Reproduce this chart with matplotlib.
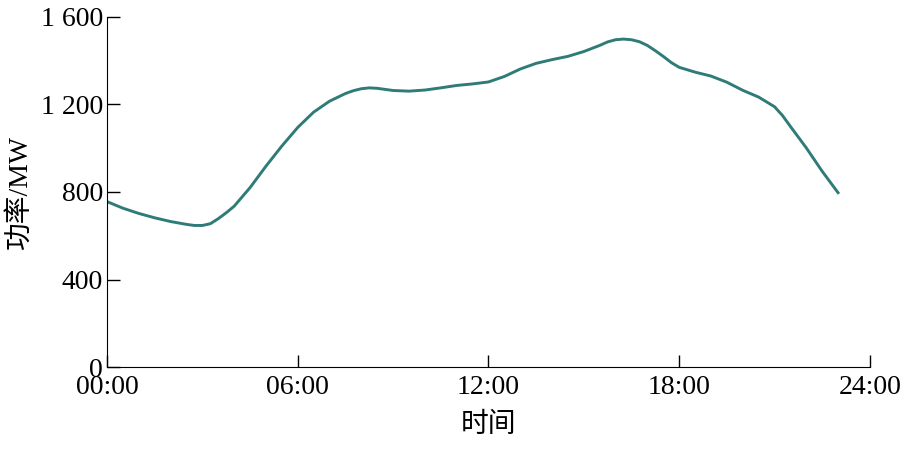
import matplotlib
matplotlib.use("Agg")
import matplotlib.pyplot as plt

# load curve (hours, MW)
hours = [0, 0.5, 1, 1.5, 2, 2.5, 2.75, 3, 3.25, 3.5, 3.75, 4, 4.5, 5, 5.5,
         6, 6.5, 7, 7.5, 7.75, 8, 8.25, 8.5, 9, 9.5, 10, 10.5, 11, 11.5,
         12, 12.5, 13, 13.5, 14, 14.5, 15, 15.5, 15.75, 16, 16.25, 16.5,
         16.75, 17, 17.25, 17.5, 17.75, 18, 18.5, 19, 19.5, 20, 20.5, 21,
         21.25, 21.5, 22, 22.5, 23]
power = [756, 726, 702, 682, 665, 652, 647, 647, 655, 678, 705, 735, 820,
         918, 1010, 1095, 1165, 1215, 1250, 1263, 1272, 1276, 1274, 1264,
         1261, 1266, 1276, 1287, 1294, 1303, 1328, 1362, 1388, 1405, 1420,
         1442, 1470, 1486, 1496, 1499, 1496, 1487, 1470, 1446, 1420, 1392,
         1370, 1348, 1330, 1302, 1265, 1234, 1190, 1150, 1100, 1002, 895,
         797]

xticks = [0, 6, 12, 18, 24]
xticklabels = ["00:00", "06:00", "12:00", "18:00", "24:00"]
yticks = [0, 400, 800, 1200, 1600]
yticklabels = ["0", "400", "800", "1 200", "1 600"]

plt.rcParams['font.family'] = ['Liberation Serif', 'Noto Sans CJK SC']
plt.rcParams['font.size'] = 20

fig = plt.figure(figsize=(9.07, 4.59), dpi=100)
ax = fig.add_axes([0.118, 0.2004, 0.841, 0.7626])

ax.plot(hours, power, color="#2e7b78", lw=2.1, solid_joinstyle="round")

ax.set_xlim(0, 24)
ax.set_ylim(0, 1600)
ax.set_xticks(xticks)
ax.set_xticklabels(xticklabels)
ax.set_yticks(yticks)
ax.set_yticklabels(yticklabels)
ax.tick_params(direction="in", length=9, width=1, pad=3)
ax.tick_params(axis="x", pad=6)

ax.spines["top"].set_visible(False)
ax.spines["right"].set_visible(False)

ax.set_xlabel("时间", labelpad=9)
ax.set_ylabel("功率/MW", labelpad=6)

fig.savefig("out.png", dpi=100)
